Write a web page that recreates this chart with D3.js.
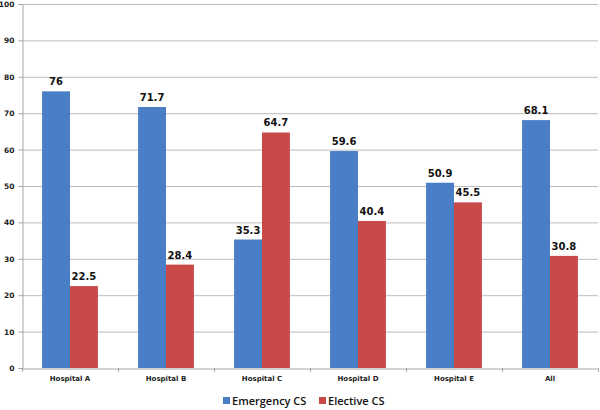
<!DOCTYPE html>
<html>
<head>
<meta charset="utf-8">
<script src="https://cdn.jsdelivr.net/npm/d3@7"></script>
<style>
  body { margin: 0; background: #fff; }
  svg { display: block; }
</style>
</head>
<body>
<script>
const w = 600;
const h = 410;

const categories = ["Hospital A", "Hospital B", "Hospital C", "Hospital D", "Hospital E", "All"];
const emergency = [76, 71.7, 35.3, 59.6, 50.9, 68.1];
const elective = [22.5, 28.4, 64.7, 40.4, 45.5, 30.8];
const seriesNames = ["Emergency CS", "Elective CS"];
const colors = ["#4a7ec6", "#c94848"];
const yTicks = [0, 10, 20, 30, 40, 50, 60, 70, 80, 90, 100];

const plotLeft = 22, plotRight = 598, plotTop = 4, plotBottom = 368;

let svg = d3.select("body").append("svg").attr("width", w).attr("height", h);

let x = d3.scaleBand().domain(categories).range([plotLeft, plotRight]);
let xs = d3.scaleBand().domain(seriesNames).range([0, x.bandwidth()]).paddingInner(0).paddingOuter(0.72);
let y = d3.scaleLinear().domain([0, 100]).range([plotBottom, plotTop]);

// gridlines
svg.append("g").selectAll("line")
    .data(yTicks.slice(1))
    .enter()
    .append("line")
    .attr("x1", plotLeft).attr("x2", plotRight)
    .attr("y1", d => y(d) + 0.5).attr("y2", d => y(d) + 0.5)
    .attr("stroke", "#bdbdbd").attr("stroke-width", 1);

// y axis
let yAxis = svg.append("g").attr("transform", `translate(${plotLeft + 0.5},0)`)
    .call(d3.axisLeft(y).tickValues(yTicks).tickSize(4).tickPadding(4));
yAxis.select(".domain").attr("stroke", "#a6a6a6");
yAxis.selectAll(".tick line").attr("stroke", "#a6a6a6");
yAxis.selectAll("text").attr("font-family", "DejaVu Sans").attr("font-size", "7.5px").attr("fill", "#222").attr("font-weight", "bold");

// x axis
let xAxis = svg.append("g").attr("transform", `translate(0,${plotBottom + 0.5})`)
    .call(d3.axisBottom(x).tickSize(0).tickPadding(8));
xAxis.select(".domain").attr("stroke", "#a6a6a6");
xAxis.selectAll("text").attr("font-family", "DejaVu Sans").attr("font-size", "7px").attr("fill", "#222").attr("font-weight", "bold");
// category separators
svg.append("g").selectAll("line")
    .data(categories.concat(["end"]))
    .enter()
    .append("line")
    .attr("x1", (d, i) => plotLeft + i * x.bandwidth() + 0.5)
    .attr("x2", (d, i) => plotLeft + i * x.bandwidth() + 0.5)
    .attr("y1", plotBottom).attr("y2", plotBottom + 4)
    .attr("stroke", "#a6a6a6");

// bars
let rows = categories.map((c, i) => ({cat: c, vals: [emergency[i], elective[i]]}));
let groups = svg.append("g").selectAll("g")
    .data(rows)
    .enter()
    .append("g")
    .attr("transform", d => `translate(${x(d.cat)},0)`);

groups.selectAll("rect")
    .data(d => d.vals.map((v, j) => ({s: seriesNames[j], v: v, j: j})))
    .enter()
    .append("rect")
    .attr("x", d => xs(d.s))
    .attr("y", d => y(d.v))
    .attr("width", xs.bandwidth())
    .attr("height", d => y(0) - y(d.v))
    .attr("fill", d => colors[d.j]);

groups.selectAll("text")
    .data(d => d.vals.map((v, j) => ({s: seriesNames[j], v: v, j: j})))
    .enter()
    .append("text")
    .attr("x", d => xs(d.s) + xs.bandwidth() / 2)
    .attr("y", d => y(d.v) - 6)
    .attr("text-anchor", "middle")
    .attr("font-family", "DejaVu Sans")
    .attr("font-weight", "bold")
    .attr("font-size", "10px")
    .attr("fill", "#111")
    .text(d => d.v);

// legend
let legend = svg.append("g");
let legX = [223, 319];
seriesNames.forEach((s, i) => {
    legend.append("rect").attr("x", legX[i]).attr("y", 397).attr("width", 7).attr("height", 7).attr("fill", colors[i]);
    legend.append("text").attr("x", legX[i] + 9).attr("y", 404.5)
        .attr("font-family", "Open Sans").attr("font-size", "11px").attr("font-weight", 600).attr("fill", "#111")
        .text(s);
});
</script>
</body>
</html>
